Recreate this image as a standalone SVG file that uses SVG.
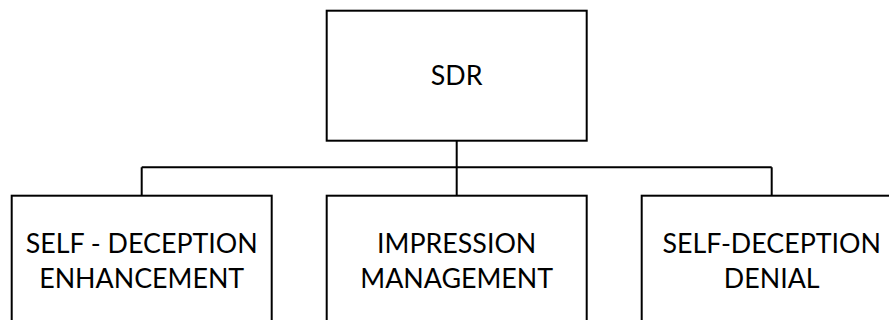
<svg xmlns="http://www.w3.org/2000/svg" width="889" height="320" viewBox="0 0 889 320">
<style>
.box{fill:#fff;stroke:#000;stroke-width:2}
.lbl{font-family:Lato,"Open Sans","Liberation Sans",sans-serif;font-size:26.8px;fill:#000;text-anchor:middle}
.conn{fill:none;stroke:#000;stroke-width:2}
</style>
<rect width="889" height="320" fill="#fff"/>
<g id="connectors">
<path class="conn" d="M456.7 140.7V167.3M141.7 167.3H771.7M141.7 167.3V195.7M456.7 167.3V195.7M771.7 167.3V195.7"/>
</g>
<g id="sdr">
<rect class="box" x="326.7" y="10.7" width="260" height="130"/>
<text class="lbl" x="456.7" y="85.2">SDR</text>
</g>
<g id="sde">
<rect class="box" x="11.7" y="195.7" width="260" height="130"/>
<text class="lbl" x="141.7" y="252.5">SELF - DECEPTION</text>
<text class="lbl" x="141.7" y="287.5">ENHANCEMENT</text>
</g>
<g id="im">
<rect class="box" x="326.7" y="195.7" width="260" height="130"/>
<text class="lbl" x="456.7" y="252.5">IMPRESSION</text>
<text class="lbl" x="456.7" y="287.5">MANAGEMENT</text>
</g>
<g id="sdd">
<rect class="box" x="641.7" y="195.7" width="260" height="130"/>
<text class="lbl" x="771.7" y="252.5">SELF-DECEPTION</text>
<text class="lbl" x="771.7" y="287.5">DENIAL</text>
</g>
</svg>
